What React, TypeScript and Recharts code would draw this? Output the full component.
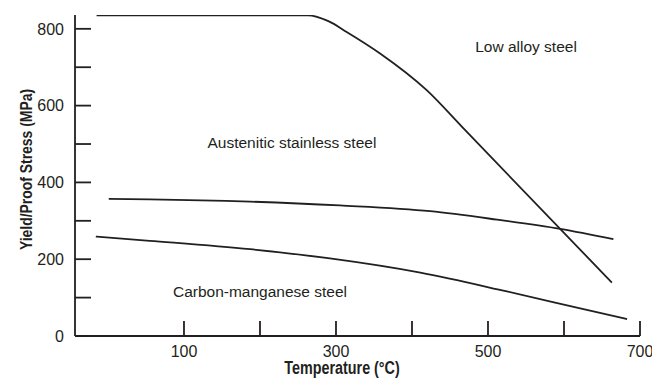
import { Label, Line, LineChart, ReferenceDot, XAxis, YAxis } from 'recharts';

// axis ticks (every 100, labels on alternate ticks)
const tempTicks = [100, 200, 300, 400, 500, 600, 700];
const tempTickLabels = ['100', '', '300', '', '500', '', '700'];
const stressTicks = [0, 100, 200, 300, 400, 500, 600, 700, 800];
const stressTickLabels = ['0', '', '200', '', '400', '', '600', '', '800'];

// low alloy steel
const lowAlloyTemp = [-15, 263, 290, 314, 358, 419, 470, 663];
const lowAlloyStress = [835, 835, 820, 792, 736, 641, 536, 139];

// austenitic stainless steel
const austeniticTemp = [1, 55, 187, 305, 424, 512, 595, 665];
const austeniticStress = [357, 356, 350, 340, 325, 303, 279, 252];

// carbon-manganese steel
const carbonMnTemp = [-16, 55, 187, 292, 411, 525, 630, 683];
const carbonMnStress = [259, 248, 226, 202, 165, 116, 68, 44];

const noteText = ['Low alloy steel', 'Austenitic stainless steel', 'Carbon-manganese steel'];
const noteTemp = [550, 242, 200];
const noteStress = [754, 503, 115];

const INK = '#231f20';
const FONT = "'Liberation Sans', Arial, sans-serif";

const toPoints = (temps: number[], stress: number[]) =>
  temps.map((temp, i) => ({ temp, stress: stress[i] }));

const lowAlloy = toPoints(lowAlloyTemp, lowAlloyStress);
const austenitic = toPoints(austeniticTemp, austeniticStress);
const carbonMn = toPoints(carbonMnTemp, carbonMnStress);

// bold condensed look: Liberation Sans Bold squeezed horizontally
function YTitle(props: any) {
  const vb = props.viewBox;
  const cx = vb.x + 26;
  const cy = vb.y + vb.height / 2 - 6;
  return (
    <text
      transform={`translate(${cx} ${cy}) rotate(-90) scale(0.82 1)`}
      textAnchor="middle"
      dominantBaseline="central"
      fill={INK}
      fontFamily={FONT}
      fontWeight="bold"
      fontSize={17}
    >
      Yield/Proof Stress (MPa)
    </text>
  );
}

function XTitle(props: any) {
  const vb = props.viewBox;
  return (
    <text
      transform={`translate(${vb.x + 267} ${vb.y + 32}) scale(0.82 1)`}
      textAnchor="middle"
      dominantBaseline="central"
      fill={INK}
      fontFamily={FONT}
      fontWeight="bold"
      fontSize={17.5}
    >
      Temperature (°C)
    </text>
  );
}

export default function App() {
  const axisStyle = { stroke: INK, strokeWidth: 1.8 };
  const tickStyle = { fill: INK, fontSize: 16, fontFamily: FONT };

  return (
    <div style={{ position: 'absolute', left: 0, top: 0, background: '#fff' }}>
      <LineChart width={652} height={378} margin={{ top: 15, right: 12, bottom: 0, left: 0 }}>
        <XAxis
          type="number"
          dataKey="temp"
          domain={[-43.4, 700]}
          allowDataOverflow
          ticks={tempTicks}
          tickFormatter={(v: number) => tempTickLabels[tempTicks.indexOf(v)] ?? ''}
          tickSize={-15}
          tickMargin={25}
          height={42}
          axisLine={axisStyle}
          tickLine={axisStyle}
          tick={tickStyle}
          interval={0}
        >
          <Label content={<XTitle />} />
        </XAxis>
        <YAxis
          type="number"
          dataKey="stress"
          domain={[0, 836]}
          allowDataOverflow
          ticks={stressTicks}
          tickFormatter={(v: number) => stressTickLabels[stressTicks.indexOf(v)] ?? ''}
          tickSize={-16}
          tickMargin={27}
          width={75}
          axisLine={axisStyle}
          tickLine={axisStyle}
          tick={tickStyle}
          interval={0}
        >
          <Label content={<YTitle />} />
        </YAxis>
        <Line
          data={lowAlloy}
          dataKey="stress"
          type="monotone"
          stroke={INK}
          strokeWidth={1.8}
          dot={false}
          isAnimationActive={false}
        />
        <Line
          data={austenitic}
          dataKey="stress"
          type="monotone"
          stroke={INK}
          strokeWidth={1.8}
          dot={false}
          isAnimationActive={false}
        />
        <Line
          data={carbonMn}
          dataKey="stress"
          type="monotone"
          stroke={INK}
          strokeWidth={1.8}
          dot={false}
          isAnimationActive={false}
        />
        {noteText.map((text, i) => (
          <ReferenceDot
            key={text}
            x={noteTemp[i]}
            y={noteStress[i]}
            r={1}
            fill="none"
            stroke="none"
            label={{ value: text, position: 'center', fill: INK, fontSize: 15.5, fontFamily: FONT }}
          />
        ))}
      </LineChart>
    </div>
  );
}
